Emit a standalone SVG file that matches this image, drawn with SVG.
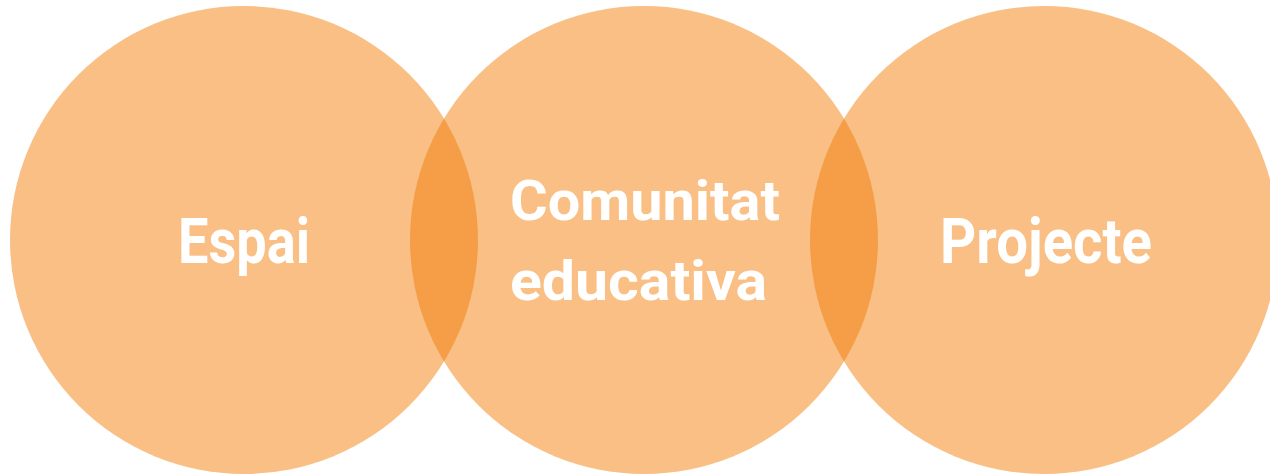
<svg xmlns="http://www.w3.org/2000/svg" width="1270" height="475" viewBox="0 0 1270 475">
<style>
.c{fill:#F37D07;fill-opacity:0.49}
.t{fill:#FFFFFF;font-family:Roboto,"Liberation Sans",sans-serif;font-weight:bold;text-anchor:middle}
</style>
<rect width="1270" height="475" fill="#FFFFFF"/>
<g id="espai">
<circle class="c" cx="244" cy="240" r="234"/>
<text class="t" x="244" y="263" font-size="63" textLength="132" lengthAdjust="spacingAndGlyphs">Espai</text>
</g>
<g id="comunitat">
<circle class="c" cx="644" cy="240" r="234"/>
<text class="t" x="645" y="220" font-size="56" textLength="270" lengthAdjust="spacingAndGlyphs">Comunitat</text>
<text class="t" x="638.5" y="300" font-size="56" textLength="257" lengthAdjust="spacingAndGlyphs">educativa</text>
</g>
<g id="projecte">
<circle class="c" cx="1044" cy="240" r="234"/>
<text class="t" x="1046" y="263" font-size="63" textLength="212" lengthAdjust="spacingAndGlyphs">Projecte</text>
</g>
<g id="connectors"/>
</svg>
